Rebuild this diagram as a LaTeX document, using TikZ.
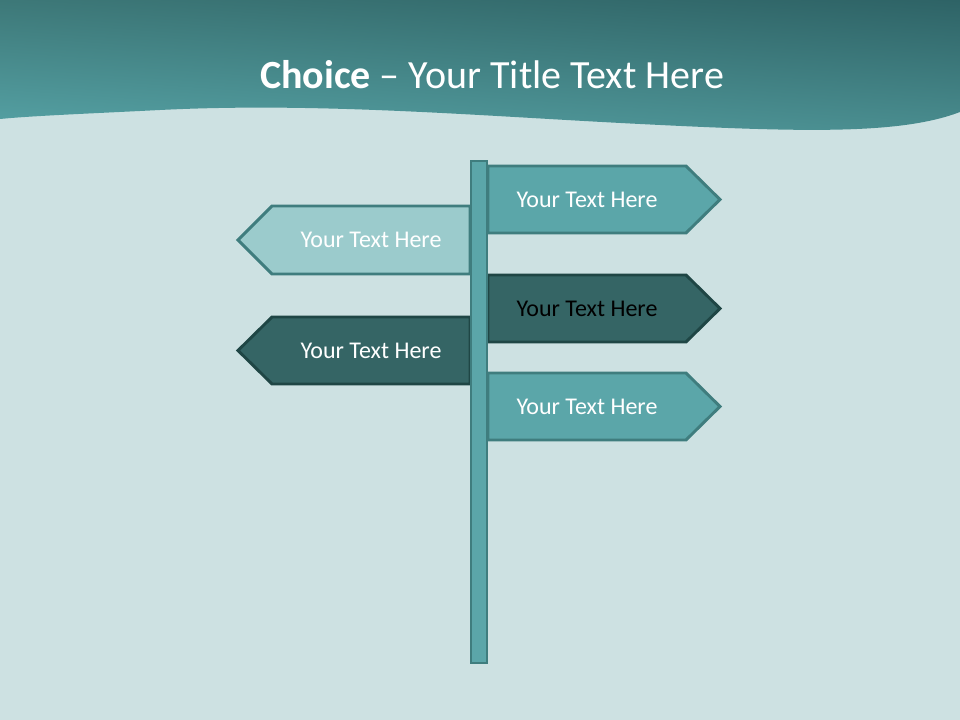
\documentclass[tikz,border=0pt]{standalone}
\usepackage{fontspec}
\setmainfont{Carlito}
\usetikzlibrary{shadings}
\begin{document}
\begin{tikzpicture}[x=0.75pt,y=-0.75pt,
  medsign/.style={fill=sgmed,draw=sgmedb,line width=2.2pt,line join=miter},
  lightsign/.style={fill=sglight,draw=sgmedb,line width=2.2pt,line join=miter},
  darksign/.style={fill=sgdark,draw=sgdarkb,line width=2.2pt,line join=miter},
  lbl/.style={font=\fontsize{18}{20}\selectfont,text=white,inner sep=0pt},
]
\definecolor{bgc}{HTML}{CDE1E2}
\definecolor{sgmed}{HTML}{5BA6A9}
\definecolor{sgmedb}{HTML}{3F7D7E}
\definecolor{sglight}{HTML}{9BCBCC}
\definecolor{sgdark}{HTML}{356565}
\definecolor{sgdarkb}{HTML}{1F4645}
\definecolor{hul}{HTML}{3D7878}
\definecolor{hur}{HTML}{2E6366}
\definecolor{hll}{HTML}{56A3A6}
\definecolor{hlr}{HTML}{4A8E90}
\useasboundingbox (0,0) rectangle (960,720);
\fill[bgc] (0,0) rectangle (960,720);
% header band
\shade[upper left=hul,upper right=hur,lower left=hll,lower right=hlr]
  (0,0) -- (960,0) -- (960,112)
  .. controls (900,135) and (800,132) .. (640,124)
  .. controls (480,116) and (320,102) .. (160,110)
  .. controls (80,114) and (30,116) .. (0,119) -- cycle;
\node[text=white,font=\fontsize{30}{34}\selectfont] (title) at (492,75)
  {\textbf{Choice} -- Your Title Text Here};
% signs
\draw[medsign] (488,166) -- (686,166) -- (720,199.5) -- (686,233) -- (488,233) -- cycle;
\draw[lightsign] (470,206) -- (272,206) -- (238,240) -- (272,274) -- (470,274) -- cycle;
\draw[darksign] (488,275) -- (686,275) -- (720,308.5) -- (686,342) -- (488,342) -- cycle;
\draw[darksign] (470,317) -- (272,317) -- (238,350.5) -- (272,384) -- (470,384) -- cycle;
\draw[medsign] (488,373) -- (686,373) -- (720,406.5) -- (686,440) -- (488,440) -- cycle;
% pole
\draw[fill=sgmed,draw=sgmedb,line width=2pt] (471,161) rectangle (487,663);
% labels
\node[lbl] (t1) at (587,199.5) {Your Text Here};
\node[lbl] (t2) at (371,240) {Your Text Here};
\node[lbl,text=black] (t3) at (587,308.5) {Your Text Here};
\node[lbl] (t4) at (371,350.5) {Your Text Here};
\node[lbl] (t5) at (587,406.5) {Your Text Here};
\end{tikzpicture}
\end{document}
